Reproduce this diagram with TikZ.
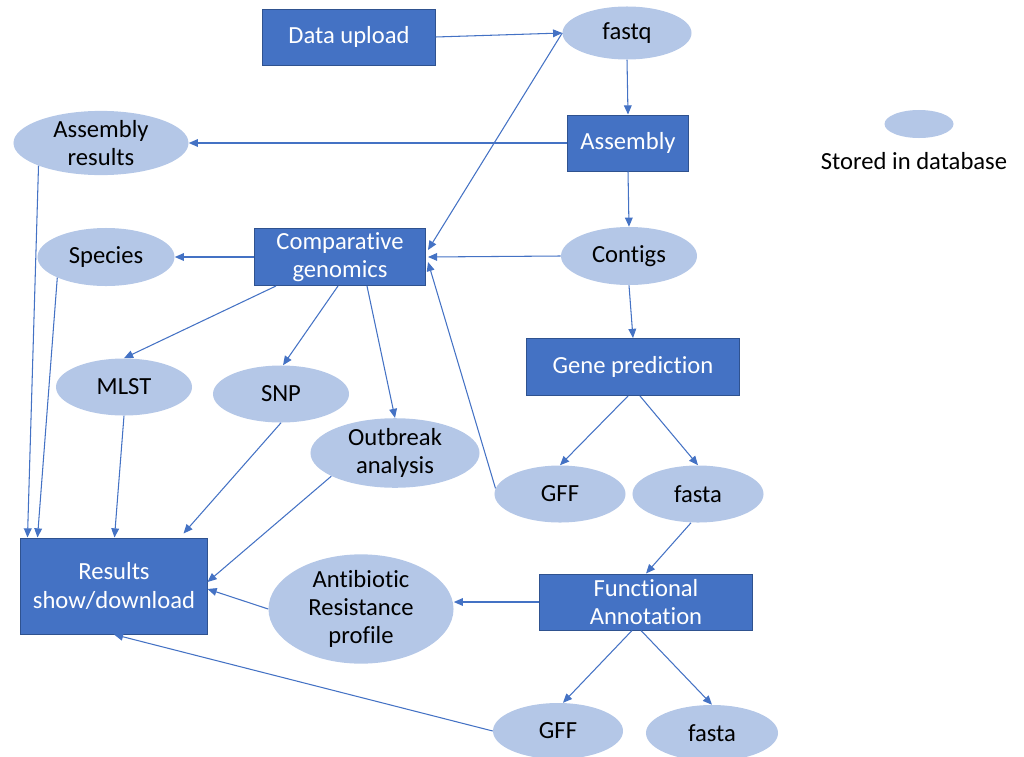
\documentclass[tikz,border=0pt]{standalone}
\usepackage{fontspec}
\setmainfont{Carlito}[Ligatures=NoCommon]
\usepackage{tikz}
\usepackage{xcolor}
\usetikzlibrary{arrows.meta,shapes.geometric,positioning,calc}

\definecolor{boxblue}{HTML}{4472C4}
\definecolor{boxedge}{HTML}{2F528F}
\definecolor{dbblue}{HTML}{B4C7E7}

\begin{document}
\begin{tikzpicture}[x=0.025cm, y=-0.025cm,
    every node/.style={font=\fontsize{17.5}{20}\selectfont, align=center, inner sep=0pt},
    process/.style={draw=boxedge, line width=0.7pt, fill=boxblue, text=white, rectangle},
    stored/.style={fill=dbblue, ellipse, text=black},
    arr/.style={-{Triangle[length=6.5pt,width=5.5pt]}, draw=boxblue, line width=0.75pt}]
    \useasboundingbox (0,0) rectangle (1024,756);

    % Processing steps
    \node[process, minimum width=4.3cm, minimum height=1.4cm] (upload) at (349,37) {Data upload};
    \node[process, minimum width=3.025cm, minimum height=1.4cm] (assembly) at (628,143) {Assembly};
    \node[process, minimum width=4.275cm, minimum height=1.425cm] (comp) at (340,257) {Comparative\\genomics};
    \node[process, minimum width=5.3cm, minimum height=1.425cm] (gene) at (633,367) {Gene prediction};
    \node[process, minimum width=4.65cm, minimum height=2.4cm] (results) at (114,586) {Results\\show/download};
    \node[process, minimum width=5.3cm, minimum height=1.4cm] (func) at (646,602) {Functional\\Annotation};

    % Stored data
    \node[stored, minimum width=3.225cm, minimum height=1.325cm] (fastq) at (627,33) {fastq};
    \node[stored, minimum width=4.375cm, minimum height=1.425cm] (aresults) at (101,143) {Assembly\\results};
    \node[stored, minimum width=3.425cm, minimum height=1.45cm] (species) at (106,257) {Species};
    \node[stored, minimum width=3.4cm, minimum height=1.45cm] (contigs) at (629,256) {Contigs};
    \node[stored, minimum width=3.4cm, minimum height=1.425cm] (mlst) at (124,387) {MLST};
    \node[stored, minimum width=3.4cm, minimum height=1.425cm] (snp) at (281,394) {SNP};
    \node[stored, minimum width=4.225cm, minimum height=1.425cm] (outbreak) at (395,453) {Outbreak\\analysis};
    \node[stored, minimum width=3.275cm, minimum height=1.425cm] (gffa) at (560,494) {GFF};
    \node[stored, minimum width=3.275cm, minimum height=1.425cm] (fastaa) at (698,494) {fasta};
    \node[stored, minimum width=4.625cm, minimum height=2.275cm] (amr) at (361,609) {Antibiotic\\Resistance\\profile};
    \node[stored, minimum width=3.25cm, minimum height=1.4cm] (gffb) at (558,731) {GFF};
    \node[stored, minimum width=3.3cm, minimum height=1.4cm] (fastab) at (712,733) {fasta};

    % Legend
    \node[stored, minimum width=1.725cm, minimum height=0.7cm] (key) at (919,124) {};
    \node (keytext) at (914,161) {Stored in database};

    % Main pipeline
    \draw[arr] (upload.east) -- (fastq.west);
    \draw[arr] (fastq.south) -- (assembly.north);
    \draw[arr] (assembly.west) -- (aresults.east);
    \draw[arr] (assembly.south) -- (contigs.north);
    \draw[arr] (contigs.south) -- (gene.north);
    \draw[arr] ($(gene.south)+(-5,0)$) -- (gffa.north);
    \draw[arr] ($(gene.south)+(7,0)$) -- (fastaa.north);
    \draw[arr] ($(fastaa.south)+(-7,0)$) -- (func.north);
    \draw[arr] ($(func.south)+(-14,0)$) -- (gffb.80);
    \draw[arr] ($(func.south)+(-5,0)$) -- (fastab.north);
    \draw[arr] (func.west) -- (func.west -| amr.east);

    % Inputs of comparative genomics
    \draw[arr] (fastq.west) -- ($(comp.east)+(2,-7)$);
    \draw[arr] (contigs.west) -- ($(comp.east)+(2,0)$);
    \draw[arr] (gffa.175) -- ($(comp.east)+(2,5)$);

    % Comparative genomics outputs
    \draw[arr] (comp.west) -- (species.east);
    \draw[arr] ($(comp.south west)+(22,0)$) -- (mlst.north);
    \draw[arr] ($(comp.south)+(-2,0)$) -- ($(snp.north)+(2,0)$);
    \draw[arr] ($(comp.south)+(27,0)$) -- (outbreak.north);

    % Everything ends in the results
    \draw[arr] (aresults.200) -- ($(results.north west)+(7,0)$);
    \draw[arr] (species.203) -- ($(results.north west)+(17,0)$);
    \draw[arr] (mlst.south) -- ($(results.north west)+(94,0)$);
    \draw[arr] (snp.south) -- ($(results.north east)+(-24,-4)$);
    \draw[arr] (outbreak.200) -- ($(results.east)+(0,-4)$);
    \draw[arr] (amr.west) -- ($(results.east)+(0,3)$);
    \draw[arr] (gffb.west) -- (results.south);
\end{tikzpicture}
\end{document}
